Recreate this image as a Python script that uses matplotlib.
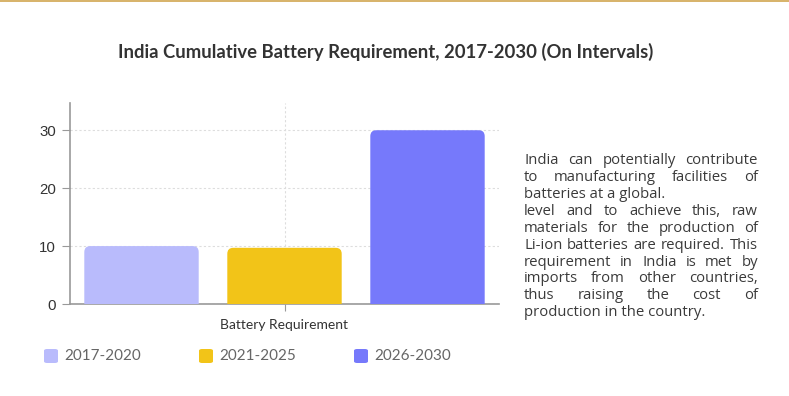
import matplotlib
matplotlib.use("Agg")
import matplotlib.pyplot as plt
from matplotlib.patches import FancyBboxPatch, Rectangle

# data
periods = ["2017-2020", "2021-2025", "2026-2030"]
values = [10, 9.7, 30]
colors = ["#b9bbfc", "#f2c418", "#7679fb"]
category = "Battery Requirement"
yticks = [0, 10, 20, 30]

title = "India Cumulative Battery Requirement, 2017-2030 (On Intervals)"
note_lines = [
    ("India can potentially contribute", True),
    ("to manufacturing facilities of", True),
    ("batteries at a global.", False),
    ("level and to achieve this, raw", True),
    ("materials for the production of", True),
    ("Li-ion batteries are required. This", True),
    ("requirement in India is met by", True),
    ("imports from other countries,", True),
    ("thus raising the cost of", True),
    ("production in the country.", False),
]

W, H = 789, 396
fig = plt.figure(figsize=(W / 100, H / 100), dpi=100)
fig.patch.set_facecolor("white")

# golden line on top
fig.add_artist(Rectangle((0, 1 - 2 / H), 1, 2 / H, transform=fig.transFigure,
                         color="#d8b46c", lw=0))

fig.text(386 / W, 1 - 52 / H, title, ha="center", va="center",
         fontsize=13.3, fontweight="bold", color="#333333", family="Lato")

ax = fig.add_axes([70 / W, 1 - 304 / H, 429 / W, 201 / H])
ax.set_xlim(-1.5, 1.5)
ax.set_ylim(0, 34.7)

# rounded-top bars
bar_w = 0.8
px_x = 429 / 3.0
px_y = 201 / 34.7
rad = 6 / px_x
for i, (v, c) in enumerate(zip(values, colors)):
    x0 = (i - 1) - bar_w / 2
    p = FancyBboxPatch((x0 + rad, -2 + rad * px_x / px_y),
                       bar_w - 2 * rad, v + 2 - 2 * rad * px_x / px_y,
                       boxstyle=f"round,pad={rad},rounding_size={rad}",
                       mutation_aspect=px_x / px_y, facecolor=c, edgecolor="none",
                       zorder=3, clip_on=True)
    ax.add_patch(p)

ax.set_yticks(yticks)
ax.set_xticks([0])
ax.set_xticklabels([category], fontsize=10, color="#333333", family="Lato")
for lab in ax.get_yticklabels():
    lab.set_fontsize(10.8)
    lab.set_color("#333333")
    lab.set_family("Liberation Sans")
ax.tick_params(axis="y", length=6, color="#999999", pad=4)
ax.tick_params(axis="x", length=5, color="#999999", pad=6)
ax.grid(True, color="#dddddd", linestyle=(0, (2, 2)), linewidth=0.8, zorder=0)
ax.set_axisbelow(True)
for s in ["top", "right"]:
    ax.spines[s].set_visible(False)
for s in ["left", "bottom"]:
    ax.spines[s].set_color("#999999")
    ax.spines[s].set_linewidth(1.2)

# legend
leg_x = [44, 199, 354]
for x, lab, c in zip(leg_x, periods, colors):
    fig.add_artist(FancyBboxPatch((x / W, 1 - 363 / H), 14 / W, 14 / H,
                                  boxstyle="round,pad=0,rounding_size=0.004",
                                  transform=fig.transFigure, facecolor=c,
                                  edgecolor="none"))
    fig.text((x + 20) / W, 1 - 356 / H, lab, ha="left", va="center",
             fontsize=11, color="#666666", family="Lato")

# justified note on the right
fig.canvas.draw()
r = fig.canvas.get_renderer()
left, right = 524, 758
y0, dy = 161, 16.85
for k, (line, justify) in enumerate(note_lines):
    y = 1 - (y0 + k * dy) / H
    words = line.split(" ")
    if not justify:
        fig.text(left / W, y, line, ha="left", va="center", fontsize=10.7,
                 color="#3a3a3a", family="Open Sans")
        continue
    arts = [fig.text(0, y, w, ha="left", va="center", fontsize=10.7,
                     color="#3a3a3a", family="Open Sans") for w in words]
    widths = [a.get_window_extent(r).width for a in arts]
    gap = max((right - left - sum(widths)) / (len(words) - 1), 2)
    x = left
    for a, w in zip(arts, widths):
        a.set_x(x / W)
        x += w + gap

fig.savefig("out.png", dpi=100, facecolor="white")
